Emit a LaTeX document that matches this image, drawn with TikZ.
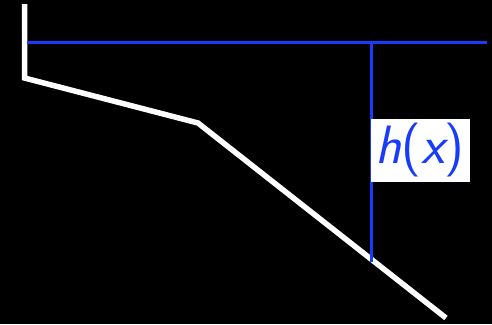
\documentclass[tikz,border=0pt]{standalone}
\usepackage{tikz}
\usetikzlibrary{positioning}
\definecolor{hblue}{RGB}{25,60,250}

\begin{document}
\begin{tikzpicture}[
    x=1pt, y=-1pt,
    profile/.style={draw=white, line width=5.5pt, line join=miter},
    level/.style={draw=hblue, line width=3pt},
    tag/.style={fill=white, text=hblue, inner xsep=5pt, inner ysep=5pt, font=\fontsize{54}{62}\selectfont\sffamily},
]

% Background
\fill[black] (0,0) rectangle (492,324);
\useasboundingbox (0,0) rectangle (492,324);

% Profile points
\coordinate (top) at (24.5,4);
\coordinate (corner) at (24.5,78);
\coordinate (knee) at (198,123);
\coordinate (end) at (446,318);

% Level line
\coordinate (lvl_l) at (27,42);
\coordinate (lvl_r) at (487,42);
\coordinate (probe_t) at (371,42);
\coordinate (probe_b) at (371,262);

% Profile
\draw[profile] (top) -- (corner) -- (knee) -- (end);

% Level and depth
\draw[level] (lvl_l) -- (lvl_r);
\draw[level] (probe_t) -- (probe_b);

% Label
\node[tag, anchor=west] (hx) at (370.5,150.5) {{\slshape h}({\slshape x})};

\end{tikzpicture}
\end{document}
